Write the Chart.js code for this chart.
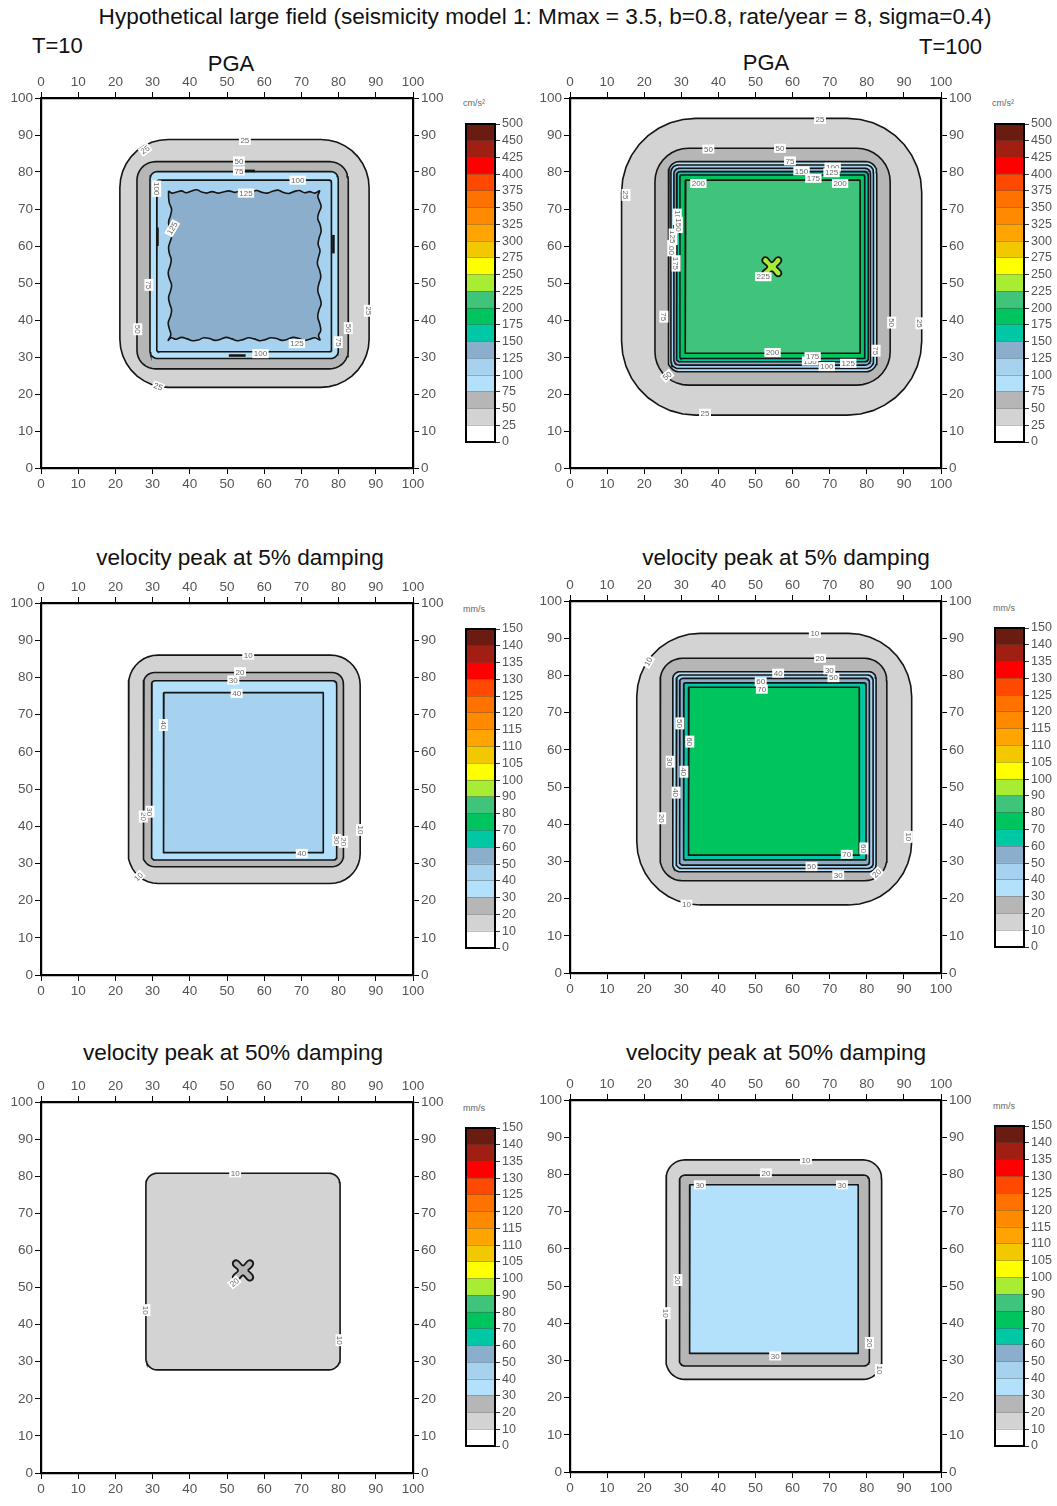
<!DOCTYPE html>
<html>
<head>
<meta charset="utf-8">
<script src="https://cdn.jsdelivr.net/npm/chart.js@4.4.1/dist/chart.umd.min.js"></script>
<style>
  body { margin: 0; background: #fff; width: 1057px; height: 1506px; position: relative; overflow: hidden;
         font-family: "Liberation Sans", Arial, sans-serif; }
  .t { position: absolute; white-space: nowrap; color: #111; }
  .u { position: absolute; white-space: nowrap; color: #666; font-size: 9px; }
  canvas { position: absolute; }
</style>
</head>
<body>
<div class="t" style="left:0;width:1090px;text-align:center;top:4px;font-size:22.6px">Hypothetical large field (seismicity model 1: Mmax = 3.5, b=0.8, rate/year = 8, sigma=0.4)</div>
<div class="t" style="left:32px;top:33px;font-size:22px">T=10</div>
<div class="t" style="right:75px;top:34px;font-size:22px">T=100</div>
<div class="t" style="left:0;width:462px;text-align:center;top:51px;font-size:22px">PGA</div>
<div class="t" style="left:0;width:1532px;text-align:center;top:50px;font-size:22px">PGA</div>
<div class="t" style="left:0;width:480px;text-align:center;top:545px;font-size:22.6px">velocity peak at 5% damping</div>
<div class="t" style="left:0;width:1572px;text-align:center;top:545px;font-size:22.6px">velocity peak at 5% damping</div>
<div class="t" style="left:0;width:466px;text-align:center;top:1040px;font-size:22.6px">velocity peak at 50% damping</div>
<div class="t" style="left:0;width:1552px;text-align:center;top:1040px;font-size:22.6px">velocity peak at 50% damping</div>

<div class="u" style="left:463px;top:98px">cm/s²</div>
<div class="u" style="left:992px;top:98px">cm/s²</div>
<div class="u" style="left:463px;top:604px">mm/s</div>
<div class="u" style="left:993px;top:603px">mm/s</div>
<div class="u" style="left:463px;top:1103px">mm/s</div>
<div class="u" style="left:993px;top:1101px">mm/s</div>

<canvas id="p1" width="455" height="430" style="left:0;top:70px"></canvas>
<canvas id="p2" width="454" height="430" style="left:529px;top:70px"></canvas>
<canvas id="p3" width="455" height="432" style="left:0;top:575px"></canvas>
<canvas id="p4" width="454" height="432" style="left:529px;top:573px"></canvas>
<canvas id="p5" width="455" height="431" style="left:0;top:1074px"></canvas>
<canvas id="p6" width="454" height="432" style="left:529px;top:1072px"></canvas>

<canvas id="c1" width="68" height="345" style="left:460px;top:110px"></canvas>
<canvas id="c2" width="68" height="345" style="left:989px;top:110px"></canvas>
<canvas id="c3" width="68" height="346" style="left:460px;top:615px"></canvas>
<canvas id="c4" width="68" height="346" style="left:989px;top:614px"></canvas>
<canvas id="c5" width="68" height="345" style="left:460px;top:1114px"></canvas>
<canvas id="c6" width="68" height="347" style="left:989px;top:1112px"></canvas>

<script>
// Class boundaries of the two colour scales
const pgaLevels = [0, 25, 50, 75, 100, 125, 150, 175, 200, 225, 250, 275, 300, 325, 350, 375, 400, 425, 450, 500];
const velLevels = [0, 10, 20, 30, 40, 50, 60, 70, 80, 90, 100, 105, 110, 115, 120, 125, 130, 135, 140, 150];

// One colour per class, lowest class first
const bandColors = [
  '#ffffff', '#d3d3d3', '#b6b6b6', '#b3e0fa', '#a6d1ef', '#8aaecb', '#00c8a4', '#00c45e',
  '#40c47c', '#a8ec34', '#ffff00', '#f2c800', '#ffa400', '#ff8a00', '#ff7200', '#ff4800',
  '#ff0000', '#a01e12', '#6a1c10'
];

// Contour rings: [level, left, right, bottom, top, corner radius] in map units
const pga10Rings = [
  [25, 21.2, 88.2, 21.8, 88.8, 13],
  [50, 25.8, 82.6, 26.8, 82.8, 5],
  [75, 29.3, 79.9, 29.6, 80.1, 2],
  [100, 31.1, 78.1, 31.4, 77.8, 0.6]
];
// Ragged 125 contour of the T=10 PGA map
const pga10Core = [
  [34.3,74.9],[35.2,74.3],[36.5,74.6],[37.8,74.9],[39.0,74.4],[40.3,74.8],[41.8,75.2],[43.2,74.6],[44.6,74.3],[46.0,74.7],
  [47.5,74.3],[49.0,74.6],[50.5,74.9],[52.0,74.5],[53.6,74.8],[55.0,74.3],[56.5,74.6],[58.0,75.0],[59.4,74.5],[60.8,74.3],
  [62.3,74.8],[63.7,75.1],[65.1,74.5],[66.6,74.2],[68.0,74.7],[69.4,75.0],[70.9,74.4],[72.2,74.7],[73.6,74.3],[74.9,74.9],
  [74.4,73.5],[74.9,72.0],[75.3,70.6],[74.7,69.0],[74.4,67.4],[75.0,65.8],[75.3,64.0],[74.8,62.3],[74.5,60.5],[75.0,58.8],
  [74.6,57.0],[74.3,55.2],[74.9,53.4],[75.2,51.6],[74.7,49.8],[74.4,48.0],[74.9,46.2],[75.3,44.4],[74.7,42.6],[74.4,40.8],
  [74.9,39.0],[75.2,37.2],[74.6,35.8],[75.0,34.6],[73.6,35.2],[72.2,34.8],[70.8,34.5],[69.3,35.0],[67.8,35.3],[66.3,34.8],
  [64.8,34.5],[63.3,35.0],[61.8,35.2],[60.3,34.7],[58.8,34.4],[57.3,34.9],[55.8,35.2],[54.3,34.7],[52.8,34.4],[51.3,34.9],
  [49.8,35.3],[48.3,34.8],[46.8,34.5],[45.3,35.0],[43.8,35.2],[42.3,34.6],[40.8,34.4],[39.3,34.9],[37.8,35.3],[36.3,34.8],
  [35.0,35.2],[34.2,34.5],[34.9,36.0],[34.5,37.6],[34.2,39.3],[34.8,41.0],[35.1,42.7],[34.6,44.4],[34.3,46.1],[34.8,47.8],
  [35.1,49.5],[34.5,51.2],[34.2,52.9],[34.7,54.6],[35.0,56.3],[34.5,58.0],[34.3,59.7],[34.8,61.4],[35.2,63.1],[34.6,64.8],
  [34.3,66.5],[34.8,68.2],[35.1,69.9],[34.5,71.6],[34.3,73.3]
];
// Small closed 100 contours lying along the T=10 PGA rings
const pga10Bits = [
  [[53.0,80.3],[57.5,80.3]],
  [[31.3,60.0],[31.3,65.0]],
  [[78.6,58.0],[78.6,63.0]],
  [[50.5,30.4],[55.0,30.4]]
];
const pga10Labels = [
  [54.8,88.5,'25',0],[28.0,86.0,'25',-35],[88.0,42.5,'25',90],[31.5,22.0,'25',20],
  [53.2,83.0,'50',0],[26.0,37.5,'50',90],[82.6,37.8,'50',90],
  [53.2,80.3,'75',0],[29.0,49.5,'75',90],[79.9,34.0,'75',90],
  [69.0,77.8,'100',0],[31.1,75.5,'100',90],[59.0,30.9,'100',0],
  [55.1,74.3,'125',0],[35.3,64.8,'125',-60],[68.8,33.6,'125',0]
];

const pga100Rings = [
  [25, 13.9, 94.8, 14.3, 94.5, 20],
  [50, 22.9, 86.3, 22.4, 86.4, 9],
  [75, 26.5, 82.7, 26.0, 82.8, 3],
  [100, 27.2, 81.8, 26.9, 81.9, 2],
  [125, 28.0, 81.0, 27.8, 81.0, 1.5],
  [150, 28.7, 80.4, 28.7, 80.1, 1],
  [175, 29.6, 79.5, 29.6, 79.2, 0.5],
  [200, 31.0, 78.2, 31.0, 77.8, 0.2]
];
// Small central maxima: [level, centre x, centre y, arm length, waist]
const pga100Peak = [225, 54.4, 54.4, 3.3, 1.2];
const pga100Labels = [
  [67.4,94.2,'25',0],[15.1,73.8,'25',90],[94.3,39.1,'25',90],[36.4,14.8,'25',0],
  [37.3,86.2,'50',0],[56.6,86.4,'50',0],[86.7,39.3,'50',90],[26.2,24.9,'50',-40],
  [59.3,83.0,'75',0],[25.3,40.9,'75',90],[82.5,31.7,'75',90],
  [70.8,81.3,'100',0],[28.9,67.9,'100',90],[27.4,59.4,'100',90],[69.2,27.4,'100',0],
  [70.5,79.8,'125',0],[27.8,62.5,'125',90],[75.0,28.3,'125',0],
  [62.4,80.3,'150',0],[29.2,65.7,'150',90],[64.7,28.9,'150',0],
  [65.6,78.3,'175',0],[28.6,55.3,'175',90],[65.4,30.1,'175',0],
  [34.6,76.9,'200',0],[72.8,76.9,'200',0],[54.6,31.2,'200',0],
  [52.1,51.7,'225',0]
];

const vel5T10Rings = [
  [10, 23.5, 85.8, 24.6, 86.0, 8],
  [20, 27.5, 81.3, 29.1, 81.3, 3],
  [30, 29.7, 79.5, 30.9, 79.1, 1],
  [40, 32.9, 75.9, 32.9, 75.9, 0.2]
];
const vel5T10Labels = [
  [55.7,86.0,'10',0],[85.9,39.0,'10',90],[26.2,26.4,'10',-45],
  [53.5,81.5,'20',0],[27.5,42.6,'20',90],[81.3,35.8,'20',90],
  [51.7,79.3,'30',0],[29.3,43.9,'30',90],[79.5,36.3,'30',90],
  [52.6,75.7,'40',0],[32.9,67.2,'40',90],[70.1,32.7,'40',0]
];

const vel5T100Rings = [
  [10, 18.0, 92.1, 18.3, 91.3, 17],
  [20, 24.3, 85.4, 24.8, 84.6, 6],
  [30, 27.7, 82.5, 27.2, 81.0, 2],
  [40, 28.6, 81.7, 28.1, 80.1, 1.5],
  [50, 29.5, 80.7, 29.0, 79.2, 1],
  [60, 30.6, 79.8, 30.4, 78.0, 0.5],
  [70, 31.9, 78.0, 31.7, 76.8, 0.2]
];
const vel5T100Labels = [
  [66.0,91.3,'10',0],[21.1,83.7,'10',-60],[91.2,36.6,'10',90],[31.4,18.5,'10',0],
  [67.4,84.6,'20',0],[24.7,41.6,'20',90],[82.7,26.8,'20',-45],
  [69.9,81.5,'30',0],[27.0,56.8,'30',90],[72.3,26.3,'30',0],
  [56.1,80.6,'40',0],[30.7,54.1,'40',90],[28.6,48.5,'40',90],
  [71.0,79.4,'50',0],[29.6,67.1,'50',90],[65.1,28.6,'50',0],
  [51.4,78.3,'60',0],[32.3,62.2,'60',90],[79.2,33.5,'60',90],
  [51.7,76.3,'70',0],[74.6,31.9,'70',0]
];

const vel50T10Rings = [
  [10, 28.2, 80.4, 27.8, 80.8, 3]
];
const vel50T10Peak = [20, 54.3, 54.6, 3.5, 1.3];
const vel50T10Labels = [
  [52.2,80.9,'10',0],[28.2,43.9,'10',90],[80.4,35.8,'10',90],[52.0,51.4,'20',-40]
];

const vel50T100Rings = [
  [10, 25.9, 84.0, 24.9, 83.9, 5],
  [20, 29.5, 80.7, 28.5, 79.8, 1.5],
  [30, 32.2, 77.7, 31.9, 77.2, 0.2]
];
const vel50T100Labels = [
  [63.6,83.9,'10',0],[25.9,42.7,'10',90],[83.4,27.4,'10',90],
  [52.8,80.4,'20',0],[29.1,51.6,'20',90],[80.7,34.7,'20',90],
  [35.0,77.2,'30',0],[73.3,77.2,'30',0],[55.3,31.2,'30',0]
];

// ---------------------------------------------------------------------------
const FONT = '"Liberation Sans", Arial, sans-serif';

// Closed outline of a ring with rounded corners (counter-clockwise)
function ringOutline(l, r, b, t, rad) {
  const pts = [];
  const corners = [[r - rad, t - rad, 0], [l + rad, t - rad, 90], [l + rad, b + rad, 180], [r - rad, b + rad, 270]];
  for (const [cx, cy, a0] of corners) {
    for (let k = 0; k <= 9; k++) {
      const a = (a0 + 10 * k) * Math.PI / 180;
      pts.push({ x: cx + rad * Math.cos(a), y: cy + rad * Math.sin(a) });
    }
  }
  pts.push({ ...pts[0] });
  return pts;
}

// Four-lobed outline of a small local maximum
function peakOutline(cx, cy, arm, waist) {
  const pts = [];
  for (let k = 0; k < 4; k++) {
    const phi = 45 + 90 * k;
    for (const [da, rr] of [[-45, waist], [-17, arm * 0.85], [0, arm], [17, arm * 0.85]]) {
      const a = (phi + da) * Math.PI / 180;
      pts.push({ x: cx + rr * Math.cos(a), y: cy + rr * Math.sin(a) });
    }
  }
  pts.push({ ...pts[0] });
  return pts;
}

function fillFor(levels, level) { return bandColors[levels.indexOf(level)]; }

function ringShapes(levels, rings) {
  return rings.map(([lv, l, r, b, t, rad]) => ({
    pts: ringOutline(l, r, b, t, rad), fill: fillFor(levels, lv), order: -lv
  }));
}

// Contour value labels on white tags
const contourLabels = {
  id: 'contourLabels',
  afterDatasetsDraw(chart, args, opts) {
    const { ctx } = chart;
    const xs = chart.scales.x, ys = chart.scales.y;
    ctx.save();
    ctx.font = '8px ' + FONT;
    ctx.textAlign = 'center';
    ctx.textBaseline = 'middle';
    for (const [x, y, txt, rot] of (opts.items || [])) {
      ctx.save();
      ctx.translate(xs.getPixelForValue(x), ys.getPixelForValue(y));
      ctx.rotate(rot * Math.PI / 180);
      const w = ctx.measureText(txt).width + 3;
      ctx.fillStyle = '#ffffff';
      ctx.fillRect(-w / 2, -4.5, w, 9);
      ctx.fillStyle = '#6a6a6a';
      ctx.fillText(txt, 0, 0.5);
      ctx.restore();
    }
    ctx.restore();
  }
};

function mapAxis(axis, position, size) {
  return {
    type: 'linear', axis, position, min: 0, max: 100,
    ticks: { stepSize: 10, autoSkip: false, maxRotation: 0, color: '#555', padding: 2,
             font: { family: FONT, size: 13.5 } },
    grid: { drawOnChartArea: false, drawTicks: true, tickLength: 6, color: '#000', lineWidth: 1 },
    border: { display: true, color: '#000', width: 2.2 },
    afterFit(s) { if (s.isHorizontal()) s.height = size; else s.width = size; }
  };
}

function mapChart(id, shapes, labels) {
  const datasets = shapes.map(s => ({
    data: s.pts,
    fill: s.fill ? 'shape' : false,
    backgroundColor: s.fill || 'rgba(0,0,0,0)',
    borderColor: '#151515',
    borderWidth: s.width || 1.6,
    pointRadius: 0,
    tension: s.tension || 0,
    order: s.order
  }));
  return new Chart(document.getElementById(id), {
    type: 'line',
    data: { datasets },
    options: {
      responsive: false, animation: false, devicePixelRatio: 1,
      layout: { padding: 0 },
      plugins: { legend: { display: false }, tooltip: { enabled: false }, contourLabels: { items: labels } },
      scales: {
        x: mapAxis('x', 'bottom', 32),
        x2: mapAxis('x', 'top', 28),
        y: mapAxis('y', 'left', 41),
        y2: mapAxis('y', 'right', 42)
      }
    },
    plugins: [contourLabels]
  });
}

// Black frame round a colour bar
const barFrame = {
  id: 'barFrame',
  afterDraw(chart) {
    const { ctx, chartArea: a } = chart;
    ctx.save();
    ctx.strokeStyle = '#000';
    ctx.lineWidth = 2;
    ctx.strokeRect(a.left, a.top, a.right - a.left, a.bottom - a.top);
    ctx.restore();
  }
};

function colorBar(id, tickLabels) {
  return new Chart(document.getElementById(id), {
    type: 'bar',
    data: {
      labels: ['class'],
      datasets: bandColors.map((c, i) => ({
        data: [[i, i + 1]], backgroundColor: c, borderWidth: 0,
        barPercentage: 1, categoryPercentage: 1, grouped: false
      }))
    },
    options: {
      responsive: false, animation: false, devicePixelRatio: 1,
      layout: { padding: { left: 6, top: 14, bottom: 13, right: 0 } },
      plugins: { legend: { display: false }, tooltip: { enabled: false } },
      scales: {
        x: { display: false },
        y: {
          position: 'right', min: 0, max: tickLabels.length - 1,
          ticks: { stepSize: 1, autoSkip: false, padding: 2, color: '#555',
                   font: { family: FONT, size: 12.5 }, callback: v => tickLabels[v] },
          grid: { drawOnChartArea: true, z: 1, color: 'rgba(70,70,70,0.45)', lineWidth: 0.8,
                  tickColor: '#000', tickLength: 5 },
          border: { display: false },
          afterFit(s) { s.width = 33; }
        }
      }
    },
    plugins: [barFrame]
  });
}

// PGA, T=10
mapChart('p1', [
  ...ringShapes(pgaLevels, pga10Rings),
  { pts: pga10Core.concat([pga10Core[0]]).map(([x, y]) => ({ x, y })), fill: fillFor(pgaLevels, 125), order: -125, tension: 0.4 },
  ...pga10Bits.map(seg => ({ pts: seg.map(([x, y]) => ({ x, y })), width: 2.6, order: -1000 }))
], pga10Labels);

// PGA, T=100
mapChart('p2', [
  ...ringShapes(pgaLevels, pga100Rings),
  { pts: peakOutline(...pga100Peak.slice(1)), fill: fillFor(pgaLevels, pga100Peak[0]), order: -pga100Peak[0], tension: 0.35, width: 1.8 }
], pga100Labels);

// Velocity, 5% damping
mapChart('p3', ringShapes(velLevels, vel5T10Rings), vel5T10Labels);
mapChart('p4', ringShapes(velLevels, vel5T100Rings), vel5T100Labels);

// Velocity, 50% damping
mapChart('p5', [
  ...ringShapes(velLevels, vel50T10Rings),
  { pts: peakOutline(...vel50T10Peak.slice(1)), fill: fillFor(velLevels, vel50T10Peak[0]), order: -vel50T10Peak[0], tension: 0.35, width: 1.8 }
], vel50T10Labels);
mapChart('p6', ringShapes(velLevels, vel50T100Rings), vel50T100Labels);

colorBar('c1', pgaLevels);
colorBar('c2', pgaLevels);
colorBar('c3', velLevels);
colorBar('c4', velLevels);
colorBar('c5', velLevels);
colorBar('c6', velLevels);
</script>
</body>
</html>
